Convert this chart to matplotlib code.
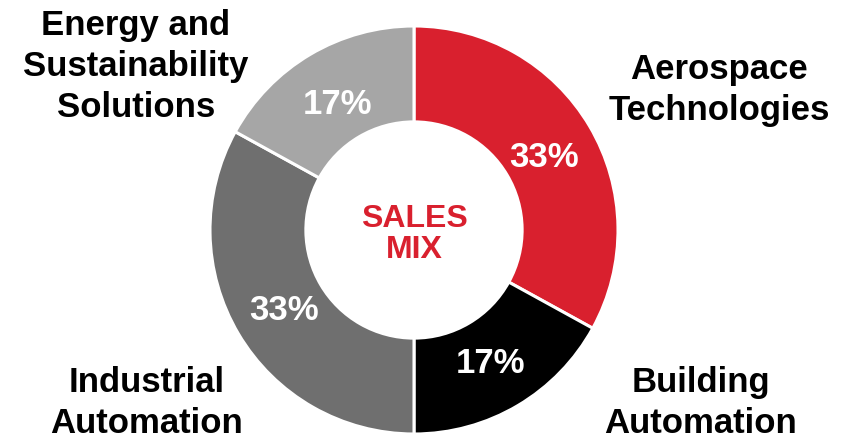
import matplotlib.pyplot as plt

# sales mix data
segments = ['Aerospace\nTechnologies', 'Building\nAutomation',
            'Industrial\nAutomation', 'Energy and\nSustainability\nSolutions']
shares = [33, 17, 33, 17]
colors = ['#D9202E', '#000000', '#6F6F6F', '#A6A6A6']

plt.rcParams['font.family'] = ['Liberation Sans', 'DejaVu Sans']
plt.rcParams['font.weight'] = 'bold'

fig = plt.figure(figsize=(8.44, 4.4), dpi=100)
ax = fig.add_axes([0, 0, 1, 1])
ax.set_xlim(0, 844)
ax.set_ylim(0, 440)
ax.set_aspect('equal')
ax.axis('off')

cx, cy, r = 414, 210, 204
wedges, _, pcts = ax.pie(shares, colors=colors, startangle=90, counterclock=False,
                         center=(cx, cy), radius=r, autopct='%d%%', pctdistance=0.74,
                         wedgeprops=dict(width=r * 0.47, edgecolor='white', linewidth=2.2),
                         textprops=dict(color='white', fontsize=25, fontweight='bold'))
# nudge percentages down a little so the digits sit mid-ring
for t in pcts:
    t.set_y(t.get_position()[1] - 4)
ax.set_xlim(0, 844)
ax.set_ylim(0, 440)

ax.text(cx, 182, 'SALES\nMIX', color='#D9202E', fontsize=23, fontweight='bold',
        ha='center', va='baseline', linespacing=1.05)

# outer labels (baseline of last line)
label_pos = [(719, 320), (701, 7), (147, 7), (136, 323)]
for name, (x, y) in zip(segments, label_pos):
    ax.text(x, y, name, fontsize=25, fontweight='bold', ha='center', va='baseline',
            linespacing=1.3)

fig.savefig('out.png', dpi=100)
